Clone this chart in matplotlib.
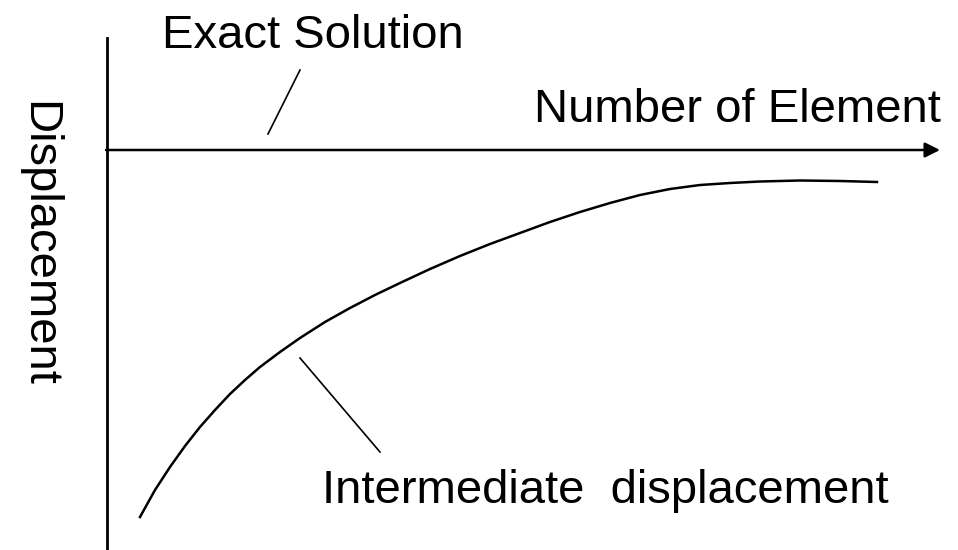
import numpy as np
import matplotlib.pyplot as plt

plt.rcParams['font.family'] = ['Liberation Sans', 'DejaVu Sans']

# curve (pixel coordinates, y downward)
curve_x = [140, 155, 170, 185, 200, 215, 230, 245, 260, 280, 300, 325, 350,
           375, 400, 430, 460, 490, 520, 550, 580, 610, 640, 670, 700, 730,
           760, 800, 840, 877]
curve_y = [517, 490, 467, 446, 427, 410, 394, 380, 367, 352, 338, 322, 308,
           295, 283, 269, 256, 244, 233, 222, 212, 203, 195, 189, 185, 183,
           181.5, 180.5, 181, 182]

exact_label = "Exact Solution"
inter_label = "Intermediate  displacement"
xlabel = "Number of Element"
ylabel = "Displacement"

fig = plt.figure(figsize=(9.58, 5.5), dpi=100)
ax = fig.add_axes([0, 0, 1, 1])
ax.set_xlim(0, 958)
ax.set_ylim(550, 0)
ax.axis('off')

# axes drawn by hand
ax.plot([107, 107], [38, 550], color='black', lw=2)
ax.annotate('', xy=(940, 150), xytext=(106, 150),
            arrowprops=dict(arrowstyle='-|>,head_length=0.9,head_width=0.45',
                            color='black', lw=1.8, shrinkA=0, shrinkB=0))

ax.plot(curve_x, curve_y, color='black', lw=1.8, solid_joinstyle='round')

# leader lines
ax.plot([268, 300], [134, 70], color='black', lw=1.2)
ax.plot([300, 380], [358, 452], color='black', lw=1.2)

fs = 34
ax.text(162, 48, exact_label, fontsize=fs, ha='left', va='baseline')
ax.text(941, 122, xlabel, fontsize=fs, ha='right', va='baseline')
ax.text(322, 503, inter_label, fontsize=fs, ha='left', va='baseline')
ax.text(38, 244, ylabel, fontsize=fs, rotation=-90, ha='center', va='center')

fig.savefig('out.png', dpi=100)
